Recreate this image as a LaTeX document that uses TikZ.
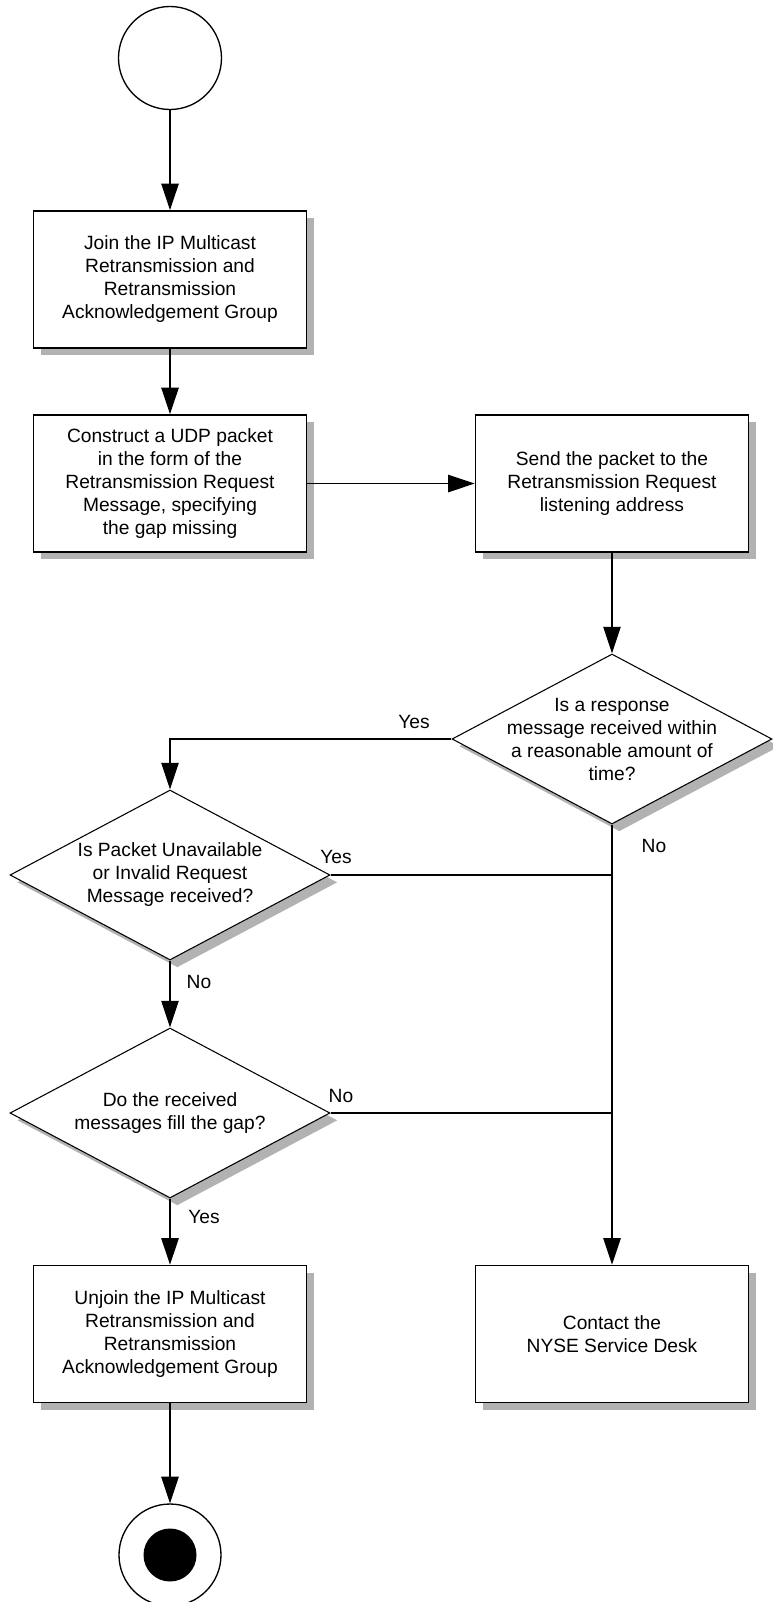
\documentclass[tikz,border=0pt]{standalone}
\usepackage{fontspec}
\setmainfont{Liberation Sans}
\usetikzlibrary{arrows.meta,shapes.geometric,shadows}
\begin{document}
\begin{tikzpicture}[x=0.75pt,y=-0.75pt,
  font=\fontsize{14.4pt}{17.25pt}\selectfont,
  shad/.style={drop shadow={shadow xshift=5.5pt,shadow yshift=-5.5pt,fill=black!30,opacity=1}},
  box/.style={draw,line width=1.1pt,fill=white,minimum width=204.75pt,minimum height=102.75pt,align=center,inner sep=0pt,shad},
  dia/.style={draw,diamond,line width=0.8pt,fill=white,minimum width=240pt,minimum height=127.5pt,inner sep=0pt,shad},
  conn/.style={line width=1.2pt},
  arr/.style={conn,-{Triangle[length=20pt,width=13pt]}},
  lbl/.style={inner sep=0pt},
  dtext/.style={align=center,inner sep=0pt}
]
\useasboundingbox (0,0) rectangle (773,1602);

\node[draw,circle,line width=1pt,minimum size=77.25pt,inner sep=0pt] (start) at (170,58) {};

\node[box] (b1) at (170,279.5) {Join the IP Multicast\\Retransmission and\\Retransmission\\Acknowledgement Group};
\node[box] (b2) at (170,483.5) {Construct a UDP packet\\in the form of the\\Retransmission Request\\Message, specifying\\the gap missing};
\node[box] (b3) at (612,483.5) {Send the packet to the\\Retransmission Request\\listening address};

\node[dia] (d1) at (612,739) {};
\node[dtext] (t1) at (d1.center) {Is a response\\message received within\\a reasonable amount of\\time?};
\node[dia] (d2) at (170,875) {};
\node[dtext] (t2) at (d2.center) {Is Packet Unavailable\\or Invalid Request\\Message received?};
\node[dia] (d3) at (170,1113) {};
\node[dtext] (t3) at (d3.center) {Do the received\\messages fill the gap?};

\node[box] (b4) at (170,1334) {Unjoin the IP Multicast\\Retransmission and\\Retransmission\\Acknowledgement Group};
\node[box] (b5) at (612,1334) {Contact the\\NYSE Service Desk};

\node[draw,circle,line width=1pt,minimum size=76.5pt,inner sep=0pt,fill=white] (end) at (170,1555) {};
\node[circle,fill=black,minimum size=39.75pt,inner sep=0pt] (endin) at (end.center) {};

\draw[arr] (start.south) -- (b1.north);
\draw[arr] (b1.south) -- (b2.north);
\draw[arr] (b2.east) -- (b3.west);
\draw[arr] (b3.south) -- (d1.north);
\draw[arr] (d1.west) -| (d2.north);
\draw[arr] (d1.south) -- (b5.north);
\draw[conn] (d2.east) -- (d2.east -| d1.south);
\draw[arr] (d2.south) -- (d3.north);
\draw[conn] (d3.east) -- (d3.east -| d1.south);
\draw[arr] (d3.south) -- (b4.north);
\draw[arr] (b4.south) -- (end.north);

\node[lbl] (l1) at (414,722) {Yes};
\node[lbl] (l2) at (336,857) {Yes};
\node[lbl] (l3) at (654,846) {No};
\node[lbl] (l4) at (199,982) {No};
\node[lbl] (l5) at (341,1096) {No};
\node[lbl] (l6) at (204,1217) {Yes};
\end{tikzpicture}
\end{document}
